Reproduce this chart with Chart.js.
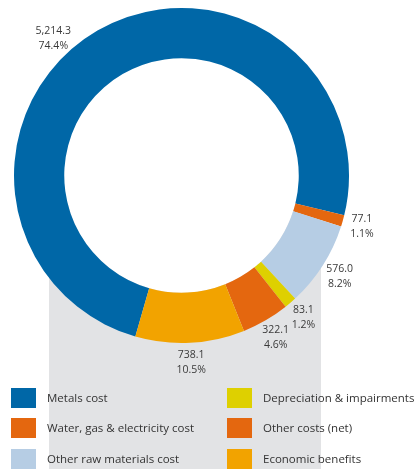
<!DOCTYPE html>
<html>
<head>
<meta charset="utf-8">
<script src="https://cdn.jsdelivr.net/npm/chart.js@4/dist/chart.umd.min.js"></script>
<style>
  html, body { margin: 0; padding: 0; background: #fff; }
  #wrap { position: relative; width: 417px; height: 469px; }
</style>
</head>
<body>
<div id="wrap"><canvas id="c" width="417" height="469"></canvas></div>
<script>
const categories = [
  'Metals cost',
  'Water, gas & electricity cost',
  'Other raw materials cost',
  'Depreciation & impairments',
  'Other costs (net)',
  'Economic benefits',
];
const values = [5214.3, 77.1, 576.0, 83.1, 322.1, 738.1];
const colors = ['#0067a7', '#e4670f', '#b6cde4', '#ded000', '#e4670f', '#f2a300'];

const FONT = '"Open Sans", "Noto Sans", sans-serif';
const total = values.reduce((a, b) => a + b, 0);
const fmt = (v) => v.toLocaleString('en-US', { minimumFractionDigits: 1, maximumFractionDigits: 1 });

/* grey panel behind the lower half plus a white hole */
const backdrop = {
  id: 'backdrop',
  beforeDatasetsDraw(chart) {
    const ctx = chart.ctx;
    const arc = chart.getDatasetMeta(0).data[0];
    const { x, y, innerRadius } = arc.getProps(['x', 'y', 'innerRadius'], true);
    ctx.save();
    ctx.fillStyle = '#e2e3e5';
    ctx.fillRect(49, y + 25, 272, chart.height - y - 25);
    ctx.fillStyle = '#fff';
    ctx.beginPath();
    ctx.arc(x, y, innerRadius, 0, Math.PI * 2);
    ctx.fill();
    ctx.restore();
  },
};

/* value + share outside each slice */
const sliceLabels = {
  id: 'sliceLabels',
  afterDatasetsDraw(chart, args, opts) {
    const ctx = chart.ctx;
    ctx.save();
    ctx.font = `10.5px ${FONT}`;
    ctx.fillStyle = '#3a3a3a';
    ctx.textAlign = 'center';
    ctx.textBaseline = 'middle';
    chart.getDatasetMeta(0).data.forEach((arc, i) => {
      const p = arc.getProps(['x', 'y', 'startAngle', 'endAngle', 'outerRadius'], true);
      const shift = ((opts.shift && opts.shift[i]) || 0) * Math.PI / 180;
      const mid = (p.startAngle + p.endAngle) / 2 + shift;
      const r = p.outerRadius + opts.offset;
      const lx = p.x + Math.cos(mid) * r;
      const ly = p.y + Math.sin(mid) * r;
      ctx.fillText(fmt(values[i]), lx, ly - 7.5);
      ctx.fillText((values[i] / total * 100).toFixed(1) + '%', lx, ly + 7.5);
    });
    ctx.restore();
  },
};

/* two-column legend, column by column */
const gridLegend = {
  id: 'gridLegend',
  afterDraw(chart) {
    const ctx = chart.ctx;
    const cols = [11, 227];
    const rows = [388, 418, 449];
    ctx.save();
    ctx.font = `11.5px ${FONT}`;
    ctx.fillStyle = '#333';
    ctx.textBaseline = 'middle';
    chart.data.labels.forEach((label, i) => {
      const cx = cols[Math.floor(i / 3)];
      const cy = rows[i % 3];
      ctx.fillStyle = chart.data.datasets[0].backgroundColor[i];
      ctx.fillRect(cx, cy, 25, 20);
      ctx.fillStyle = '#333';
      ctx.fillText(label, cx + 36, cy + 10.5);
    });
    ctx.restore();
  },
};

new Chart(document.getElementById('c'), {
  type: 'doughnut',
  data: {
    labels: categories,
    datasets: [{
      data: values,
      backgroundColor: colors,
      borderWidth: 0,
    }],
  },
  options: {
    responsive: false,
    animation: false,
    rotation: -164,
    cutout: '70%',
    layout: { padding: { left: 14, top: 8, right: 68, bottom: 126 } },
    plugins: {
      legend: { display: false },
      tooltip: { enabled: false },
      sliceLabels: { offset: 20, shift: { 0: -13 } },
    },
  },
  plugins: [backdrop, sliceLabels, gridLegend],
});
</script>
</body>
</html>
